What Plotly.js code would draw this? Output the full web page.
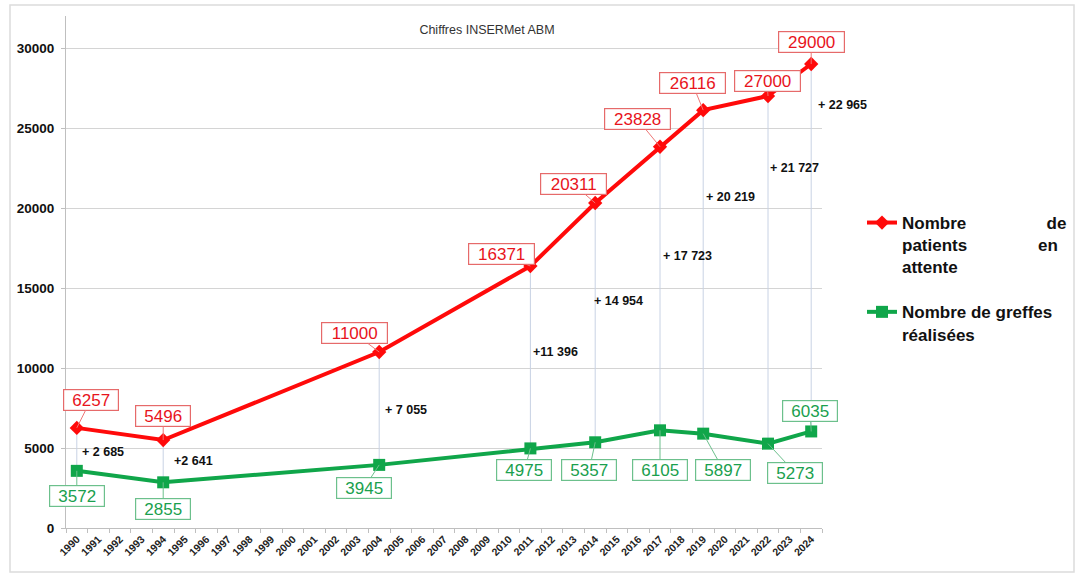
<!DOCTYPE html>
<html>
<head>
<meta charset="utf-8">
<script src="https://cdn.plot.ly/plotly-3.0.1.min.js"></script>
<style>html,body{margin:0;padding:0;background:#fff;}#chart{width:1077px;height:576px;}#err{position:absolute;left:100px;top:100px;color:#00f;font:12px monospace;}</style>
</head>
<body>
<div id="chart"></div>
<div id="err"></div>
<script>
window.onerror = function(m){ document.getElementById("err").textContent += " ERR: " + m; };
// ---- data ----
const allYears = ["1990","1991","1992","1993","1994","1995","1996","1997","1998","1999","2000","2001","2002","2003","2004","2005","2006","2007","2008","2009","2010","2011","2012","2013","2014","2015","2016","2017","2018","2019","2020","2021","2022","2023","2024"];
const years = ["1990","1994","2004","2011","2014","2017","2019","2022","2024"];
const waiting = [6257, 5496, 11000, 16371, 20311, 23828, 26116, 27000, 29000];
const transplants = [3572, 2855, 3945, 4975, 5357, 6105, 5897, 5273, 6035];
const gapLabels = ["+ 2 685", "+2 641", "+ 7 055", "+11 396", "+ 14 954", "+ 17 723", "+ 20 219", "+ 21 727", "+ 22 965"];
const yTickVals = [0, 5000, 10000, 15000, 20000, 25000, 30000];
const yTickText = ["0", "5000", "10000", "15000", "20000", "25000", "30000"];
const seriesNames = ["Nombre\u00A0\u00A0\u00A0\u00A0\u00A0\u00A0\u00A0\u00A0\u00A0\u00A0\u00A0\u00A0\u00A0\u00A0\u00A0\u00A0\u00A0de<br>patients\u00A0\u00A0\u00A0\u00A0\u00A0\u00A0\u00A0\u00A0\u00A0\u00A0\u00A0\u00A0\u00A0\u00A0\u00A0en<br>attente", "Nombre de greffes<br>réalisées"];
const chartTitle = "Chiffres INSERMet ABM";

// ---- label placement (pixel offsets, style only) ----
const redOff = [[14,-28],[0,-24],[-25,-19],[-29,-12],[-22,-19],[-23,-28],[-11,-27],[-1,-15],[0,-22]];
const greenOff = [[0,25],[0,27],[-15,23],[-6,22],[-6,28],[0,40],[20,36],[27,29],[-1,-20]];
const gapPos = [4750, 4190, 7375, 11000, 14190, 17000, 20690, 22500, 26440];
const gapShift = [3, 9, 4, 1, -3, 1, 1, 0, 5];

const RED = "#ff0a0a", GREEN = "#10a64a";
const FONT = "Liberation Sans, Arial, sans-serif";

// drop lines between the two series
const dropX = [], dropY = [];
years.forEach((y, i) => { dropX.push(y, y, null); dropY.push(transplants[i], waiting[i], null); });

const traces = [
  {x: dropX, y: dropY, mode: "lines", line: {color: "#c8d2e4", width: 1}, showlegend: false, hoverinfo: "skip"},
  {x: years, y: waiting, name: seriesNames[0], legendgroup: "a", mode: "lines+markers",
   line: {color: RED, width: 4}, marker: {symbol: "diamond", size: 11, color: RED}},
  {x: years, y: transplants, name: seriesNames[1], legendgroup: "b", mode: "lines+markers",
   line: {color: GREEN, width: 4}, marker: {symbol: "square", size: 12, color: GREEN}}
];

const annotations = [];
years.forEach((yr, i) => {
  const xi = allYears.indexOf(yr);
  const rs = String(waiting[i]);
  annotations.push({xref: "x", yref: "y", x: xi, y: waiting[i], text: rs, showarrow: true, arrowhead: 0, arrowwidth: 1,
    arrowcolor: "#ee7777", ax: redOff[i][0], ay: redOff[i][1], axref: "pixel", ayref: "pixel", standoff: 0,
    font: {family: FONT, size: 17, color: "#e8141c"}, bgcolor: "#ffffff", bordercolor: "#e66a6a",
    borderwidth: 1.2, borderpad: 1, width: rs.length * 11 + 8, height: 18});
  const gs = String(transplants[i]);
  annotations.push({xref: "x", yref: "y", x: xi, y: transplants[i], text: gs, showarrow: true, arrowhead: 0, arrowwidth: 1,
    arrowcolor: "#6cc08c", ax: greenOff[i][0], ay: greenOff[i][1], axref: "pixel", ayref: "pixel", standoff: 0,
    font: {family: FONT, size: 17, color: "#1aa04e"}, bgcolor: "#ffffff", bordercolor: "#6cc08c",
    borderwidth: 1.2, borderpad: 1, width: gs.length * 11 + 8, height: 18});
  annotations.push({xref: "x", yref: "y", x: xi, y: gapPos[i], text: "<b>" + gapLabels[i] + "</b>", showarrow: false,
    xanchor: "left", yanchor: "middle", xshift: gapShift[i],
    font: {family: FONT, size: 12.5, color: "#111111"}});
});

const layout = {
  width: 1077, height: 576,
  margin: {l: 66, r: 255, t: 16, b: 48},
  paper_bgcolor: "#ffffff", plot_bgcolor: "#ffffff",
  title: {text: chartTitle, x: 487/1077, xanchor: "center", y: 1 - 30/576, yanchor: "middle",
          font: {family: FONT, size: 12.5, color: "#333333"}},
  xaxis: {type: "category", categoryorder: "array", categoryarray: allYears,
          tickvals: allYears, ticktext: allYears, range: [-0.5, 34.5],
          tickangle: -45, tickfont: {family: FONT, size: 10.5, color: "#222222", weight: "bold"},
          showline: true, linecolor: "#bfbfbf", linewidth: 1, showgrid: false,
          ticks: "outside", ticklen: 4, tickcolor: "#bfbfbf", tickson: "boundaries", zeroline: false},
  yaxis: {range: [0, 32000], tickmode: "array", tickvals: yTickVals, ticktext: yTickText,
          tickfont: {family: FONT, size: 13.5, color: "#111111", weight: "bold"},
          showline: true, linecolor: "#bfbfbf", linewidth: 1, gridcolor: "#d4d4d4", gridwidth: 1,
          ticks: "outside", ticklen: 4, tickcolor: "#bfbfbf", zeroline: false, ticklabelstandoff: 4},
  legend: {xref: "container", yref: "container", x: 862/1077, y: 1 - 205/576,
           xanchor: "left", yanchor: "top", valign: "top", tracegroupgap: 20,
           font: {family: FONT, size: 17, color: "#111111", weight: "bold"}, bgcolor: "rgba(0,0,0,0)"},
  annotations: annotations,
  shapes: [{type: "rect", xref: "paper", yref: "paper", x0: -56/756, x1: 1008/756, y0: -44/512, y1: 523/512,
            line: {color: "#dcdcdc", width: 1.5}, layer: "below"}],
  showlegend: true
};

Plotly.newPlot("chart", traces, layout, {displayModeBar: false}).catch(e => {
  document.getElementById("err").textContent += " PERR: " + e;
});
</script>
</body>
</html>
